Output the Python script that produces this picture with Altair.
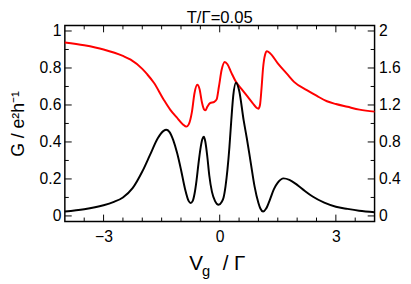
import altair as alt
import pandas as pd

# Black curve (left axis): G in e^2/h
vg_black = [-4.0, -3.5, -3.0, -2.75, -2.5, -2.25, -2.0, -1.8, -1.6, -1.45, -1.38, -1.3, -1.2, -1.1,
            -1.0, -0.9, -0.8, -0.75, -0.7, -0.65, -0.6, -0.55, -0.5, -0.45, -0.41, -0.37, -0.32,
            -0.27, -0.2, -0.12, -0.03, 0.05, 0.1, 0.15, 0.2, 0.25, 0.3, 0.35, 0.42, 0.5, 0.62, 0.7,
            0.8, 0.9, 1.0, 1.05, 1.12, 1.2, 1.3, 1.4, 1.5, 1.65, 1.8, 2.0, 2.2, 2.4, 2.7, 3.0, 3.3,
            3.6, 4.0]
g_black = [0.024, 0.036, 0.058, 0.075, 0.10, 0.15, 0.24, 0.33, 0.42, 0.46, 0.466, 0.455, 0.41, 0.34,
           0.25, 0.15, 0.08, 0.07, 0.08, 0.12, 0.19, 0.28, 0.36, 0.415, 0.428, 0.40, 0.32,
           0.22, 0.13, 0.08, 0.06, 0.075, 0.10, 0.16, 0.25, 0.37, 0.52, 0.65, 0.72, 0.68, 0.515, 0.42,
           0.29, 0.16, 0.07, 0.04, 0.024, 0.04, 0.09, 0.145, 0.18, 0.203, 0.195, 0.168, 0.135, 0.105,
           0.072, 0.05, 0.038, 0.028, 0.02]

# Red curve (right axis)
vg_red = [-4.0, -3.5, -3.0, -2.5, -2.3, -2.0, -1.87, -1.7, -1.45, -1.28, -1.11, -0.95, -0.86, -0.8,
          -0.72, -0.65, -0.58, -0.52, -0.46, -0.4, -0.37, -0.32, -0.25, -0.14, -0.08, -0.02, 0.05,
          0.13, 0.2, 0.3, 0.42, 0.55, 0.7, 0.85, 0.95, 1.0, 1.04, 1.08, 1.12, 1.17, 1.22, 1.3, 1.5,
          1.75, 1.92, 2.25, 2.5, 2.77, 3.0, 3.3, 3.61, 4.0]
r_red = [1.876, 1.845, 1.80, 1.73, 1.69, 1.59, 1.53, 1.44, 1.26, 1.15, 1.065, 0.99, 0.966, 0.99,
         1.12, 1.33, 1.418, 1.37, 1.23, 1.15, 1.143, 1.18, 1.22, 1.234, 1.26, 1.40, 1.58,
         1.665, 1.64, 1.55, 1.45, 1.38, 1.30, 1.22, 1.17, 1.16, 1.2, 1.38, 1.6, 1.74, 1.78, 1.76, 1.65,
         1.53, 1.45, 1.36, 1.30, 1.24, 1.21, 1.18, 1.15, 1.128]

# Tick positions
x_major = [-3, 0, 3]
x_minor = [-3.5, -2.5, -2, -1.5, -1, -0.5, 0.5, 1, 1.5, 2, 2.5, 3.5]
yl_major = [0, 0.2, 0.4, 0.6, 0.8, 1.0]
yl_minor = [0.1, 0.3, 0.5, 0.7, 0.9]
yr_major = [0, 0.4, 0.8, 1.2, 1.6, 2.0]
yr_minor = [0.2, 0.6, 1.0, 1.4, 1.8]

W, H = 316, 200
XD = [-4, 4]
YL = [-0.03, 1.03]
YR = [-0.06, 2.06]
FONT = "Liberation Sans"

black_df = pd.DataFrame({"vg": vg_black, "g": g_black})
red_df = pd.DataFrame({"vg": vg_red, "r": r_red})

xs = alt.Scale(domain=XD, nice=False, zero=False)
yls = alt.Scale(domain=YL, nice=False, zero=False)
yrs = alt.Scale(domain=YR, nice=False, zero=False)

black = alt.Chart(black_df).mark_line(color="black", strokeWidth=2, interpolate="monotone").encode(
    x=alt.X("vg:Q", scale=xs, axis=alt.Axis(values=x_major, ticks=False, tickSize=0, domain=False,
                                           grid=False, labelFontSize=16, labelPadding=7, title=None,
                                           labelColor="black", labelFont=FONT)),
    y=alt.Y("g:Q", scale=yls, axis=alt.Axis(values=yl_major, format="~g", ticks=False, tickSize=0,
                                           domain=False, grid=False, labelFontSize=16, labelPadding=4,
                                           labelColor="black", labelFont=FONT,
                                           title="G / e²h⁻¹", titleFontSize=18, titleFont=FONT,
                                           titleFontWeight="normal", titleColor="black", titlePadding=12)),
)

red = alt.Chart(red_df).mark_line(color="#ff0000", strokeWidth=2, interpolate="monotone").encode(
    x=alt.X("vg:Q", scale=xs, axis=None),
    y=alt.Y("r:Q", scale=yrs, axis=alt.Axis(orient="right", values=yr_major, format="~g", ticks=False,
                                           tickSize=0, domain=False, grid=False, labelFontSize=16,
                                           labelPadding=4, labelColor="black", labelFont=FONT,
                                           title=None)),
)

def xticks(vals, length):
    d = pd.DataFrame({"v": vals})
    bot = alt.Chart(d).mark_rule(color="black", strokeWidth=1).encode(
        x=alt.X("v:Q", scale=xs, axis=None), y=alt.value(H), y2=alt.value(H - length))
    top = alt.Chart(d).mark_rule(color="black", strokeWidth=1).encode(
        x=alt.X("v:Q", scale=xs, axis=None), y=alt.value(0), y2=alt.value(length))
    return [bot, top]

def yticks(vals, scale, left, length):
    d = pd.DataFrame({"v": vals})
    if left:
        xe, x2e = alt.value(0), alt.value(length)
    else:
        xe, x2e = alt.value(W), alt.value(W - length)
    return alt.Chart(d).mark_rule(color="black", strokeWidth=1).encode(
        y=alt.Y("v:Q", scale=scale, axis=None), x=xe, x2=x2e)

tick_layers = (xticks(x_major, 7) + xticks(x_minor, 4) +
               [yticks(yl_major, yls, True, 7), yticks(yl_minor, yls, True, 4),
                yticks(yr_major, yrs, False, 7), yticks(yr_minor, yrs, False, 4)])

# Text pieces: x-axis title (V, subscript g, / Γ) and the chart title
title_parts = ["V", "g", "/ Γ"]
chart_title = "T/Γ=0.05"
lab = pd.DataFrame({"t": [0]})
t_v = alt.Chart(lab).mark_text(text=title_parts[0], fontSize=21, font=FONT, align="left",
                               baseline="alphabetic", color="black").encode(
    x=alt.value(127), y=alt.value(249))
t_g = alt.Chart(lab).mark_text(text=title_parts[1], fontSize=15, font=FONT, align="left",
                               baseline="alphabetic", color="black").encode(
    x=alt.value(140), y=alt.value(256))
t_r = alt.Chart(lab).mark_text(text=title_parts[2], fontSize=21, font=FONT, align="left",
                               baseline="alphabetic", color="black").encode(
    x=alt.value(161), y=alt.value(249))
t_title = alt.Chart(lab).mark_text(text=chart_title, fontSize=17, font=FONT, align="center",
                                   baseline="alphabetic", color="black").encode(
    x=alt.value(W / 2), y=alt.value(-2))

chart = alt.layer(red, black, *tick_layers, t_v, t_g, t_r, t_title).resolve_scale(
    x="independent", y="independent"
).properties(
    width=W, height=H,
    autosize=alt.AutoSizeParams(type="none"),
    padding={"left": 58, "top": 15, "right": 29, "bottom": 62},
).configure(font=FONT).configure_view(stroke="black", strokeWidth=1.5)

chart.save("out.html", embed_options={"renderer": "svg", "actions": False})
